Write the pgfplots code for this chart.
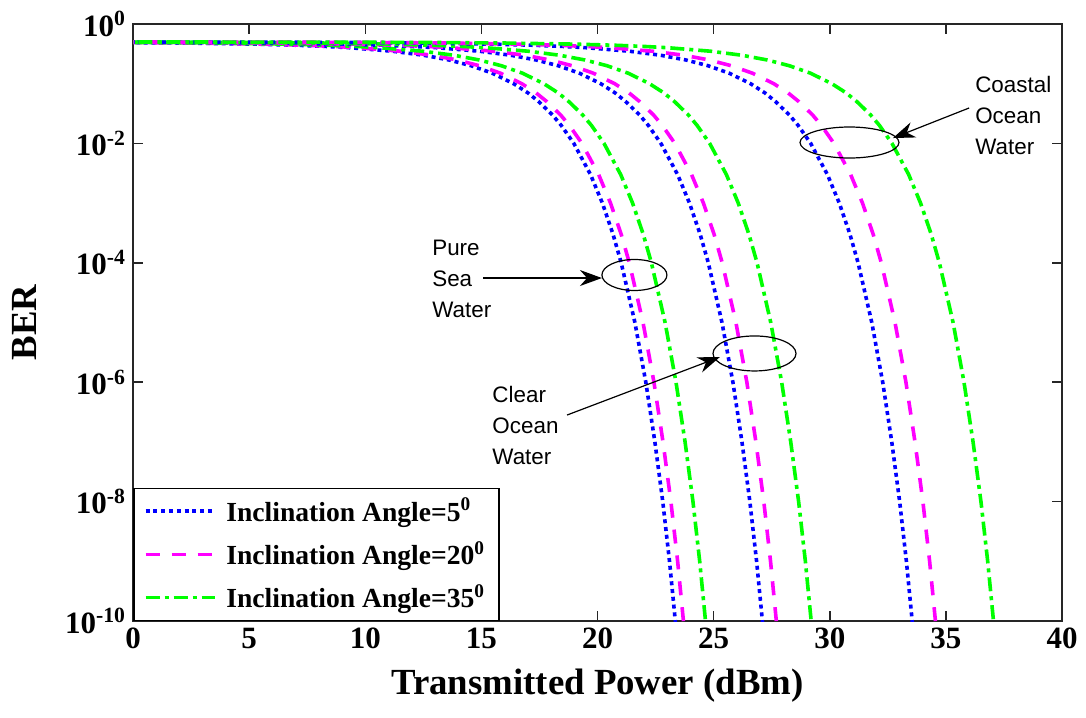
\documentclass[border=0pt]{standalone}
\usepackage{fontspec}
\setmainfont{Liberation Serif}
\newfontfamily\arial{Liberation Sans}
\usepackage{pgfplots}
\pgfplotsset{compat=1.18}
\usepackage{pgfplotstable}
\usetikzlibrary{arrows.meta}

\definecolor{mblue}{rgb}{0,0,1}
\definecolor{mmag}{rgb}{1,0,1}
\definecolor{mgreen}{rgb}{0,1,0}

% BER level, then transmitted power (dBm) of each curve at that level
% A-C: pure sea water, D-F: clear ocean, G-I: coastal ocean (angle 5, 20, 35)
\pgfplotstableread{
ber      A      B      C      D      E      F      G      H      I
4.999e-1 -20.70 -20.35 -19.40 -16.95 -16.35 -14.85 -10.50 -9.50  -7.00
4.99e-1  -10.70 -10.35 -9.40  -6.95  -6.35  -4.85  -0.50  0.50   3.00
4.95e-1  -3.71  -3.36  -2.41  0.04   0.64   2.14   6.49   7.49   9.99
4.9e-1   -0.70  -0.35  0.60   3.05   3.65   5.15   9.50   10.50  13.00
4.8e-1   2.31   2.66   3.61   6.06   6.66   8.16   12.51  13.51  16.01
4.6e-1   5.33   5.68   6.63   9.08   9.68   11.18  15.53  16.53  19.03
4.4e-1   7.10   7.45   8.40   10.85  11.45  12.95  17.30  18.30  20.80
4.2e-1   8.36   8.71   9.66   12.11  12.71  14.21  18.56  19.56  22.06
4e-1     9.35   9.70   10.65  13.10  13.70  15.20  19.55  20.55  23.05
3.5e-1   11.17  11.52  12.47  14.92  15.52  17.02  21.37  22.37  24.87
3e-1     12.51  12.86  13.81  16.26  16.86  18.36  22.71  23.71  26.21
2.5e-1   13.60  13.95  14.90  17.35  17.95  19.45  23.80  24.80  27.30
2e-1     14.56  14.91  15.86  18.31  18.91  20.41  24.76  25.76  28.26
1.5e-1   15.47  15.82  16.77  19.22  19.82  21.32  25.67  26.67  29.17
1e-1     16.39  16.74  17.69  20.14  20.74  22.24  26.59  27.59  30.09
7e-2     17.01  17.36  18.31  20.76  21.36  22.86  27.21  28.21  30.71
5e-2     17.47  17.82  18.77  21.22  21.82  23.32  27.67  28.67  31.17
3e-2     18.06  18.41  19.36  21.81  22.41  23.91  28.26  29.26  31.76
2e-2     18.44  18.79  19.74  22.19  22.79  24.29  28.64  29.64  32.14
1e-2     18.98  19.33  20.28  22.73  23.33  24.83  29.18  30.18  32.68
3e-3     19.70  20.05  21.00  23.45  24.05  25.55  29.90  30.90  33.40
1e-3     20.21  20.56  21.51  23.96  24.56  26.06  30.41  31.41  33.91
3e-4     20.67  21.02  21.97  24.42  25.02  26.52  30.87  31.87  34.37
1e-4     21.02  21.37  22.32  24.77  25.37  26.87  31.22  32.22  34.72
1e-5     21.61  21.96  22.91  25.36  25.96  27.46  31.81  32.81  35.31
1e-6     22.08  22.43  23.38  25.83  26.43  27.93  32.28  33.28  35.78
1e-7     22.47  22.82  23.77  26.22  26.82  28.32  32.67  33.67  36.17
1e-8     22.81  23.16  24.11  26.56  27.16  28.66  33.01  34.01  36.51
1e-9     23.10  23.45  24.40  26.85  27.45  28.95  33.30  34.30  36.80
1e-10    23.35  23.70  24.65  27.10  27.70  29.20  33.55  34.55  37.05
1e-11    23.59  23.94  24.89  27.34  27.94  29.44  33.79  34.79  37.29
}\berdata

\pgfplotsset{
  ang5/.style={color=mblue, line width=1.8bp, dash pattern=on 2bp off 1.9bp},
  ang20/.style={color=mmag, line width=1.8bp, dash pattern=on 7bp off 6bp},
  ang35/.style={color=mgreen, line width=1.8bp, dash pattern=on 7bp off 2.5bp on 2bp off 2.5bp},
}

\begin{document}
\begin{tikzpicture}
\begin{axis}[
    scale only axis,
    width=464.5bp, height=298.5bp,
    xmin=0, xmax=40,
    ymode=log, ymin=1e-10, ymax=1,
    xtick={0,5,...,40},
    ytick={1e-10,1e-8,1e-6,1e-4,1e-2,1},
    yticklabels={10\textsuperscript{-10},10\textsuperscript{-8},10\textsuperscript{-6},10\textsuperscript{-4},10\textsuperscript{-2},10\textsuperscript{0}},
    yminorticks=false,
    /pgf/number format/assume math mode=true,
    ticklabel style={font=\bfseries\fontsize{15.5bp}{18bp}\selectfont},
    xlabel={Transmitted Power (dBm)},
    ylabel={BER},
    label style={font=\bfseries\fontsize{18.4bp}{22bp}\selectfont},
    x label style={at={(axis description cs:0.5,-0.109)}, anchor=center},
    y label style={at={(axis description cs:-0.1163,0.5)}, anchor=center},
    tick align=inside,
    major tick length=5bp,
    tick style={black!85, line width=0.75bp},
    axis line style={black!85, line width=0.75bp},
    every axis plot/.append style={line cap=butt},
    legend cell align=left,
    legend image code/.code={\draw[#1] (0bp,0bp) -- (34.5bp,0bp);},
    legend style={at={(axis description cs:0,0)}, anchor=south west,
        draw=black, line width=0.75bp, fill=white,
        font=\bfseries\fontsize{13.8bp}{17bp}\selectfont,
        inner xsep=5bp, inner ysep=2.75bp, row sep=4.5bp,
        /tikz/every odd column/.append style={column sep=3bp}},
]
\addplot[ang5]  table[x=A, y=ber] {\berdata};
\addlegendentry{Inclination Angle=5\textsuperscript{0}}
\addplot[ang20] table[x=B, y=ber] {\berdata};
\addlegendentry{Inclination Angle=20\textsuperscript{0}}
\addplot[ang35] table[x=C, y=ber] {\berdata};
\addlegendentry{Inclination Angle=35\textsuperscript{0}}
\addplot[ang5,  forget plot] table[x=D, y=ber] {\berdata};
\addplot[ang20, forget plot] table[x=E, y=ber] {\berdata};
\addplot[ang35, forget plot] table[x=F, y=ber] {\berdata};
\addplot[ang5,  forget plot] table[x=G, y=ber] {\berdata};
\addplot[ang20, forget plot] table[x=H, y=ber] {\berdata};
\addplot[ang35, forget plot] table[x=I, y=ber] {\berdata};

% annotations
\draw[line width=0.6bp] (axis cs:21.59,6.25e-5) ellipse [x radius=16.25bp, y radius=7.75bp];
\draw[line width=0.6bp, -{Stealth[length=11bp, width=8bp]}] (axis cs:15.07,5.56e-5) -- (axis cs:20.19,5.56e-5);
\node[anchor=west, align=left, inner sep=0pt, font=\arial\fontsize{11.2bp}{15.5bp}\selectfont] at (axis cs:12.87,5.37e-5) {Pure\\Sea\\Water};

\draw[line width=0.6bp] (axis cs:26.76,3.03e-6) ellipse [x radius=20.75bp, y radius=8.75bp];
\draw[line width=0.6bp, -{Stealth[length=11bp, width=8bp]}] (axis cs:18.69,2.82e-7) -- (axis cs:25.27,2.64e-6);
\node[anchor=west, align=left, inner sep=0pt, font=\arial\fontsize{11.2bp}{15.5bp}\selectfont] at (axis cs:15.46,1.92e-7) {Clear\\Ocean\\Water};

\draw[line width=0.6bp] (axis cs:30.85,1.035e-2) ellipse [x radius=24.75bp, y radius=7.75bp];
\draw[line width=0.6bp, -{Stealth[length=11bp, width=8bp]}] (axis cs:36.0,3.92e-2) -- (axis cs:32.72,1.23e-2);
\node[anchor=west, align=left, inner sep=0pt, font=\arial\fontsize{11.2bp}{15.5bp}\selectfont] at (axis cs:36.25,2.99e-2) {Coastal\\Ocean\\Water};
\end{axis}
\pgfresetboundingbox
\path ([shift={(-66.5bp,-48.5bp)}]current axis.south west) rectangle ([shift={(12bp,12bp)}]current axis.north east);
\end{tikzpicture}
\end{document}
